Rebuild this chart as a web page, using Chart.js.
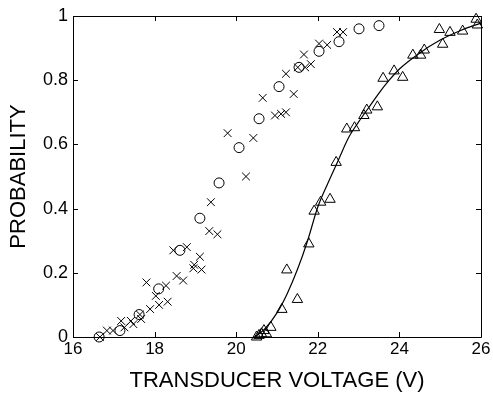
<!DOCTYPE html>
<html>
<head>
<meta charset="utf-8">
<script src="https://cdn.jsdelivr.net/npm/chart.js@4/dist/chart.umd.min.js"></script>
<style>
  html, body { margin: 0; padding: 0; background: #ffffff; }
  #wrap { width: 493px; height: 397px; position: relative; }
</style>
</head>
<body>
<div id="wrap"><canvas id="c" width="493" height="397"></canvas></div>
<script>
// ---- data ----
const xTickValues = [16, 18, 20, 22, 24, 26];
const xTickLabels = ["16", "18", "20", "22", "24", "26"];
const yTickValues = [0, 0.2, 0.4, 0.6, 0.8, 1];
const yTickLabels = ["0", "0.2", "0.4", "0.6", "0.8", "1"];

const circleX = [16.64, 17.15, 17.62, 18.10, 18.62, 19.11, 19.58, 20.07, 20.56, 21.05, 21.54, 22.03, 22.52, 23.01, 23.50];
const circleY = [0.00, 0.02, 0.07, 0.15, 0.27, 0.37, 0.48, 0.59, 0.68, 0.78, 0.84, 0.89, 0.92, 0.96, 0.97];

const crossX = [16.66, 16.83, 16.98, 17.18, 17.26, 17.42, 17.48, 17.64, 17.67, 17.80, 17.89, 18.11, 18.32, 18.03, 18.28, 18.54, 18.70, 18.95, 18.97, 19.15, 19.11, 18.46, 18.79, 19.34, 19.54, 19.38, 20.24, 19.79, 20.42, 20.65, 20.95, 21.10, 21.22, 21.22, 21.41, 21.66, 21.51, 21.69, 21.83, 22.03, 22.23, 22.47, 22.62];
const crossY = [0.00, 0.02, 0.02, 0.05, 0.03, 0.05, 0.04, 0.07, 0.056, 0.17, 0.087, 0.10, 0.11, 0.128, 0.16, 0.19, 0.176, 0.214, 0.225, 0.21, 0.25, 0.27, 0.28, 0.33, 0.32, 0.42, 0.50, 0.635, 0.62, 0.745, 0.69, 0.695, 0.70, 0.82, 0.757, 0.88, 0.84, 0.84, 0.85, 0.914, 0.91, 0.95, 0.95];

const triX = [20.50, 20.56, 20.62, 20.68, 20.74, 20.85, 21.12, 21.24, 21.50, 21.78, 21.91, 22.07, 22.30, 22.45, 22.71, 22.90, 23.13, 23.20, 23.46, 23.60, 23.87, 24.08, 24.33, 24.52, 24.61, 24.98, 25.06, 25.24, 25.55, 25.88, 25.91];
const triY = [0.00, 0.005, 0.01, 0.02, 0.01, 0.03, 0.086, 0.209, 0.117, 0.29, 0.392, 0.42, 0.429, 0.544, 0.648, 0.652, 0.69, 0.707, 0.717, 0.806, 0.829, 0.809, 0.878, 0.878, 0.894, 0.958, 0.912, 0.949, 0.953, 0.99, 0.972];

const fitX = [20.45, 20.7, 21.0, 21.25, 21.5, 21.75, 22.0, 22.25, 22.5, 22.75, 23.0, 23.25, 23.5, 23.75, 24.0, 24.5, 25.0, 25.5, 26.0];
const fitY = [0.0, 0.025, 0.075, 0.135, 0.21, 0.30, 0.405, 0.48, 0.55, 0.62, 0.67, 0.715, 0.76, 0.80, 0.835, 0.885, 0.925, 0.955, 0.978];

const xTitle = "TRANSDUCER VOLTAGE (V)";
const yTitle = "PROBABILITY";

const pts = (xs, ys) => xs.map((x, i) => ({x: x, y: ys[i]}));

// box + inward ticks (MATLAB style), positioned by the scales
const boxPlugin = {
  id: 'box',
  afterDatasetsDraw(chart) {
    const {ctx, chartArea: a, scales} = chart;
    const xs = scales.x, ys = scales.y;
    const L = 5;
    ctx.save();
    ctx.strokeStyle = '#000';
    ctx.lineWidth = 1;
    ctx.beginPath();
    ctx.rect(Math.round(a.left) + 0.5, Math.round(a.top) + 0.5, Math.round(a.right - a.left), Math.round(a.bottom - a.top));
    xTickValues.forEach(v => {
      const px = Math.round(xs.getPixelForValue(v)) + 0.5;
      ctx.moveTo(px, a.bottom); ctx.lineTo(px, a.bottom - L);
      ctx.moveTo(px, a.top); ctx.lineTo(px, a.top + L);
    });
    yTickValues.forEach(v => {
      const py = Math.round(ys.getPixelForValue(v)) + 0.5;
      ctx.moveTo(a.left, py); ctx.lineTo(a.left + L, py);
      ctx.moveTo(a.right, py); ctx.lineTo(a.right - L, py);
    });
    ctx.stroke();
    ctx.restore();
  }
};

const FONT = "'Liberation Sans', Arial, Helvetica, sans-serif";

new Chart(document.getElementById('c'), {
  type: 'scatter',
  data: {
    datasets: [
      {
        type: 'line', data: pts(fitX, fitY), borderColor: '#000', borderWidth: 1.2,
        pointRadius: 0, fill: false, tension: 0.4, cubicInterpolationMode: 'monotone', clip: false
      },
      {
        data: pts(crossX, crossY), pointStyle: 'crossRot', pointRadius: 5.5,
        borderColor: '#000', backgroundColor: 'rgba(0,0,0,0)', borderWidth: 1, clip: false
      },
      {
        data: pts(circleX, circleY), pointStyle: 'circle', pointRadius: 5,
        borderColor: '#000', backgroundColor: 'rgba(0,0,0,0)', borderWidth: 1, clip: false
      },
      {
        data: pts(triX, triY), pointStyle: 'triangle', pointRadius: 6,
        borderColor: '#000', backgroundColor: 'rgba(0,0,0,0)', borderWidth: 1, clip: false
      }
    ]
  },
  options: {
    responsive: false,
    animation: false,
    devicePixelRatio: 1,
    layout: { padding: { left: 0, right: 12, top: 16, bottom: 0 } },
    plugins: { legend: { display: false }, tooltip: { enabled: false } },
    scales: {
      x: {
        type: 'linear', min: 16, max: 26,
        afterBuildTicks: s => { s.ticks = xTickValues.map(v => ({value: v})); },
        afterFit: s => { s.height = 60; },
        grid: { display: false, drawTicks: false },
        border: { display: false },
        ticks: {
          color: '#000', padding: 2, maxRotation: 0, autoSkip: false,
          font: { family: FONT, size: 17 },
          callback: (v) => { const i = xTickValues.indexOf(v); return i >= 0 ? xTickLabels[i] : ''; }
        },
        title: {
          display: true, text: xTitle, color: '#000',
          font: { family: FONT, size: 22 }, padding: { top: 0, bottom: 3 }
        }
      },
      y: {
        type: 'linear', min: 0, max: 1,
        afterBuildTicks: s => { s.ticks = yTickValues.map(v => ({value: v})); },
        afterFit: s => { s.width = 73; },
        grid: { display: false, drawTicks: false },
        border: { display: false },
        ticks: {
          color: '#000', padding: 5, autoSkip: false,
          font: { family: FONT, size: 18 },
          callback: (v) => { const i = yTickValues.findIndex(t => Math.abs(t - v) < 1e-9); return i >= 0 ? yTickLabels[i] : ''; }
        },
        title: {
          display: true, text: yTitle, color: '#000',
          font: { family: FONT, size: 22 }, padding: { top: 6, bottom: 0 }
        }
      }
    }
  },
  plugins: [boxPlugin]
});
</script>
</body>
</html>
